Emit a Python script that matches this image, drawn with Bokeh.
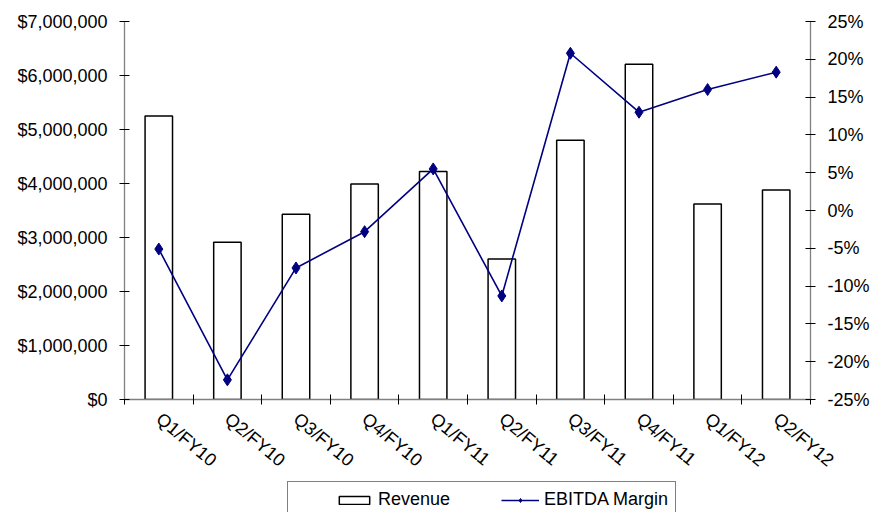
import math
from bokeh.plotting import figure
from bokeh.layouts import column
from bokeh.models import (Range1d, LinearAxis, FixedTicker, NumeralTickFormatter,
                          PrintfTickFormatter, Legend, LegendItem)
from bokeh.embed import file_html
from bokeh.resources import INLINE

categories = ["Q1/FY10", "Q2/FY10", "Q3/FY10", "Q4/FY10", "Q1/FY11",
              "Q2/FY11", "Q3/FY11", "Q4/FY11", "Q1/FY12", "Q2/FY12"]
revenue = [5250000, 2910000, 3430000, 3990000, 4220000,
           2600000, 4800000, 6210000, 3620000, 3880000]
ebitda_margin = [-5.1, -22.4, -7.6, -2.8, 5.5, -11.3, 20.8, 13.0, 16.0, 18.3]
left_ticks = [0, 1000000, 2000000, 3000000, 4000000, 5000000, 6000000, 7000000]
right_ticks = [-25, -20, -15, -10, -5, 0, 5, 10, 15, 20, 25]
series_names = ["Revenue", "EBITDA Margin"]

FONT = "Liberation Sans"
FS = "18px"
NAVY = "#000080"
xs = [i + 0.5 for i in range(len(categories))]

p = figure(width=872, height=481, output_backend="svg", toolbar_location=None,
           x_range=Range1d(0, len(categories)), y_range=Range1d(0, 7000000),
           min_border_left=124, min_border_right=61, min_border_top=21,
           min_border_bottom=80, x_axis_location=None, y_axis_location=None)
p.outline_line_color = None
p.xgrid.visible = False
p.ygrid.visible = False
p.extra_y_ranges = {"pct": Range1d(-25, 25)}

def style(ax):
    ax.axis_line_color = "#808080"
    ax.axis_line_width = 1.3
    ax.major_tick_line_color = "#000000"
    ax.major_tick_in = 5
    ax.major_tick_out = 5
    ax.minor_tick_line_color = None
    ax.major_label_text_font = FONT
    ax.major_label_text_font_size = FS
    ax.major_label_text_color = "#000000"
    ax.major_label_standoff = 12

yl = LinearAxis(ticker=FixedTicker(ticks=left_ticks),
                formatter=NumeralTickFormatter(format="$0,0"))
style(yl)
p.add_layout(yl, "left")

yr = LinearAxis(y_range_name="pct", ticker=FixedTicker(ticks=right_ticks),
                formatter=PrintfTickFormatter(format="%d%%"))
style(yr)
p.add_layout(yr, "right")

xa = LinearAxis(ticker=FixedTicker(ticks=xs, minor_ticks=list(range(len(categories) + 1))),
                major_label_overrides={x: c for x, c in zip(xs, categories)})
style(xa)
xa.major_tick_line_color = None
xa.major_tick_in = 0
xa.major_tick_out = 0
xa.minor_tick_line_color = "#000000"
xa.minor_tick_in = 5
xa.minor_tick_out = 5
xa.major_label_orientation = -math.radians(40)
xa.major_label_standoff = 12
p.add_layout(xa, "below")

p.vbar(x=xs, top=revenue, width=0.4, fill_color="white",
       line_color="black", line_width=1.5)
p.line(xs, ebitda_margin, y_range_name="pct", line_color=NAVY, line_width=1.6)
p.scatter(xs, ebitda_margin, y_range_name="pct", marker="diamond", size=12,
          fill_color=NAVY, line_color=NAVY)

# legend strip below the chart; its renderers carry the same data but are
# hidden, so only their legend entries show
p2 = figure(width=872, height=31, output_backend="svg", toolbar_location=None,
            x_range=Range1d(0, 1), y_range=Range1d(0, 1),
            min_border=0, x_axis_location=None, y_axis_location=None)
p2.outline_line_color = None
p2.xgrid.visible = False
p2.ygrid.visible = False
lb = p2.vbar(x=xs, top=revenue, width=0.4, fill_color="white",
             line_color="black", line_width=1.5, visible=False)
ll = p2.line(xs, ebitda_margin, line_color=NAVY, line_width=1.6, visible=False)
lp = p2.scatter(xs, ebitda_margin, marker="diamond", size=12,
                fill_color=NAVY, line_color=NAVY, visible=False)

legend = Legend(items=[LegendItem(label=series_names[0], renderers=[lb]),
                       LegendItem(label=series_names[1], renderers=[ll, lp])],
                orientation="horizontal", location=(163, -6),
                title=" ", title_location="left", title_standoff=34,
                title_text_font_size="6px",
                border_line_color="black", border_line_width=1,
                label_text_font=FONT, label_text_font_size=FS,
                label_text_color="#000000",
                glyph_width=38, glyph_height=10, label_standoff=5,
                spacing=51, padding=7, margin=0,
                label_height=18, inactive_fill_alpha=0)
p2.add_layout(legend, "center")

layout = column(p, p2, spacing=0)
open("out.html", "w").write(file_html(layout, INLINE))
